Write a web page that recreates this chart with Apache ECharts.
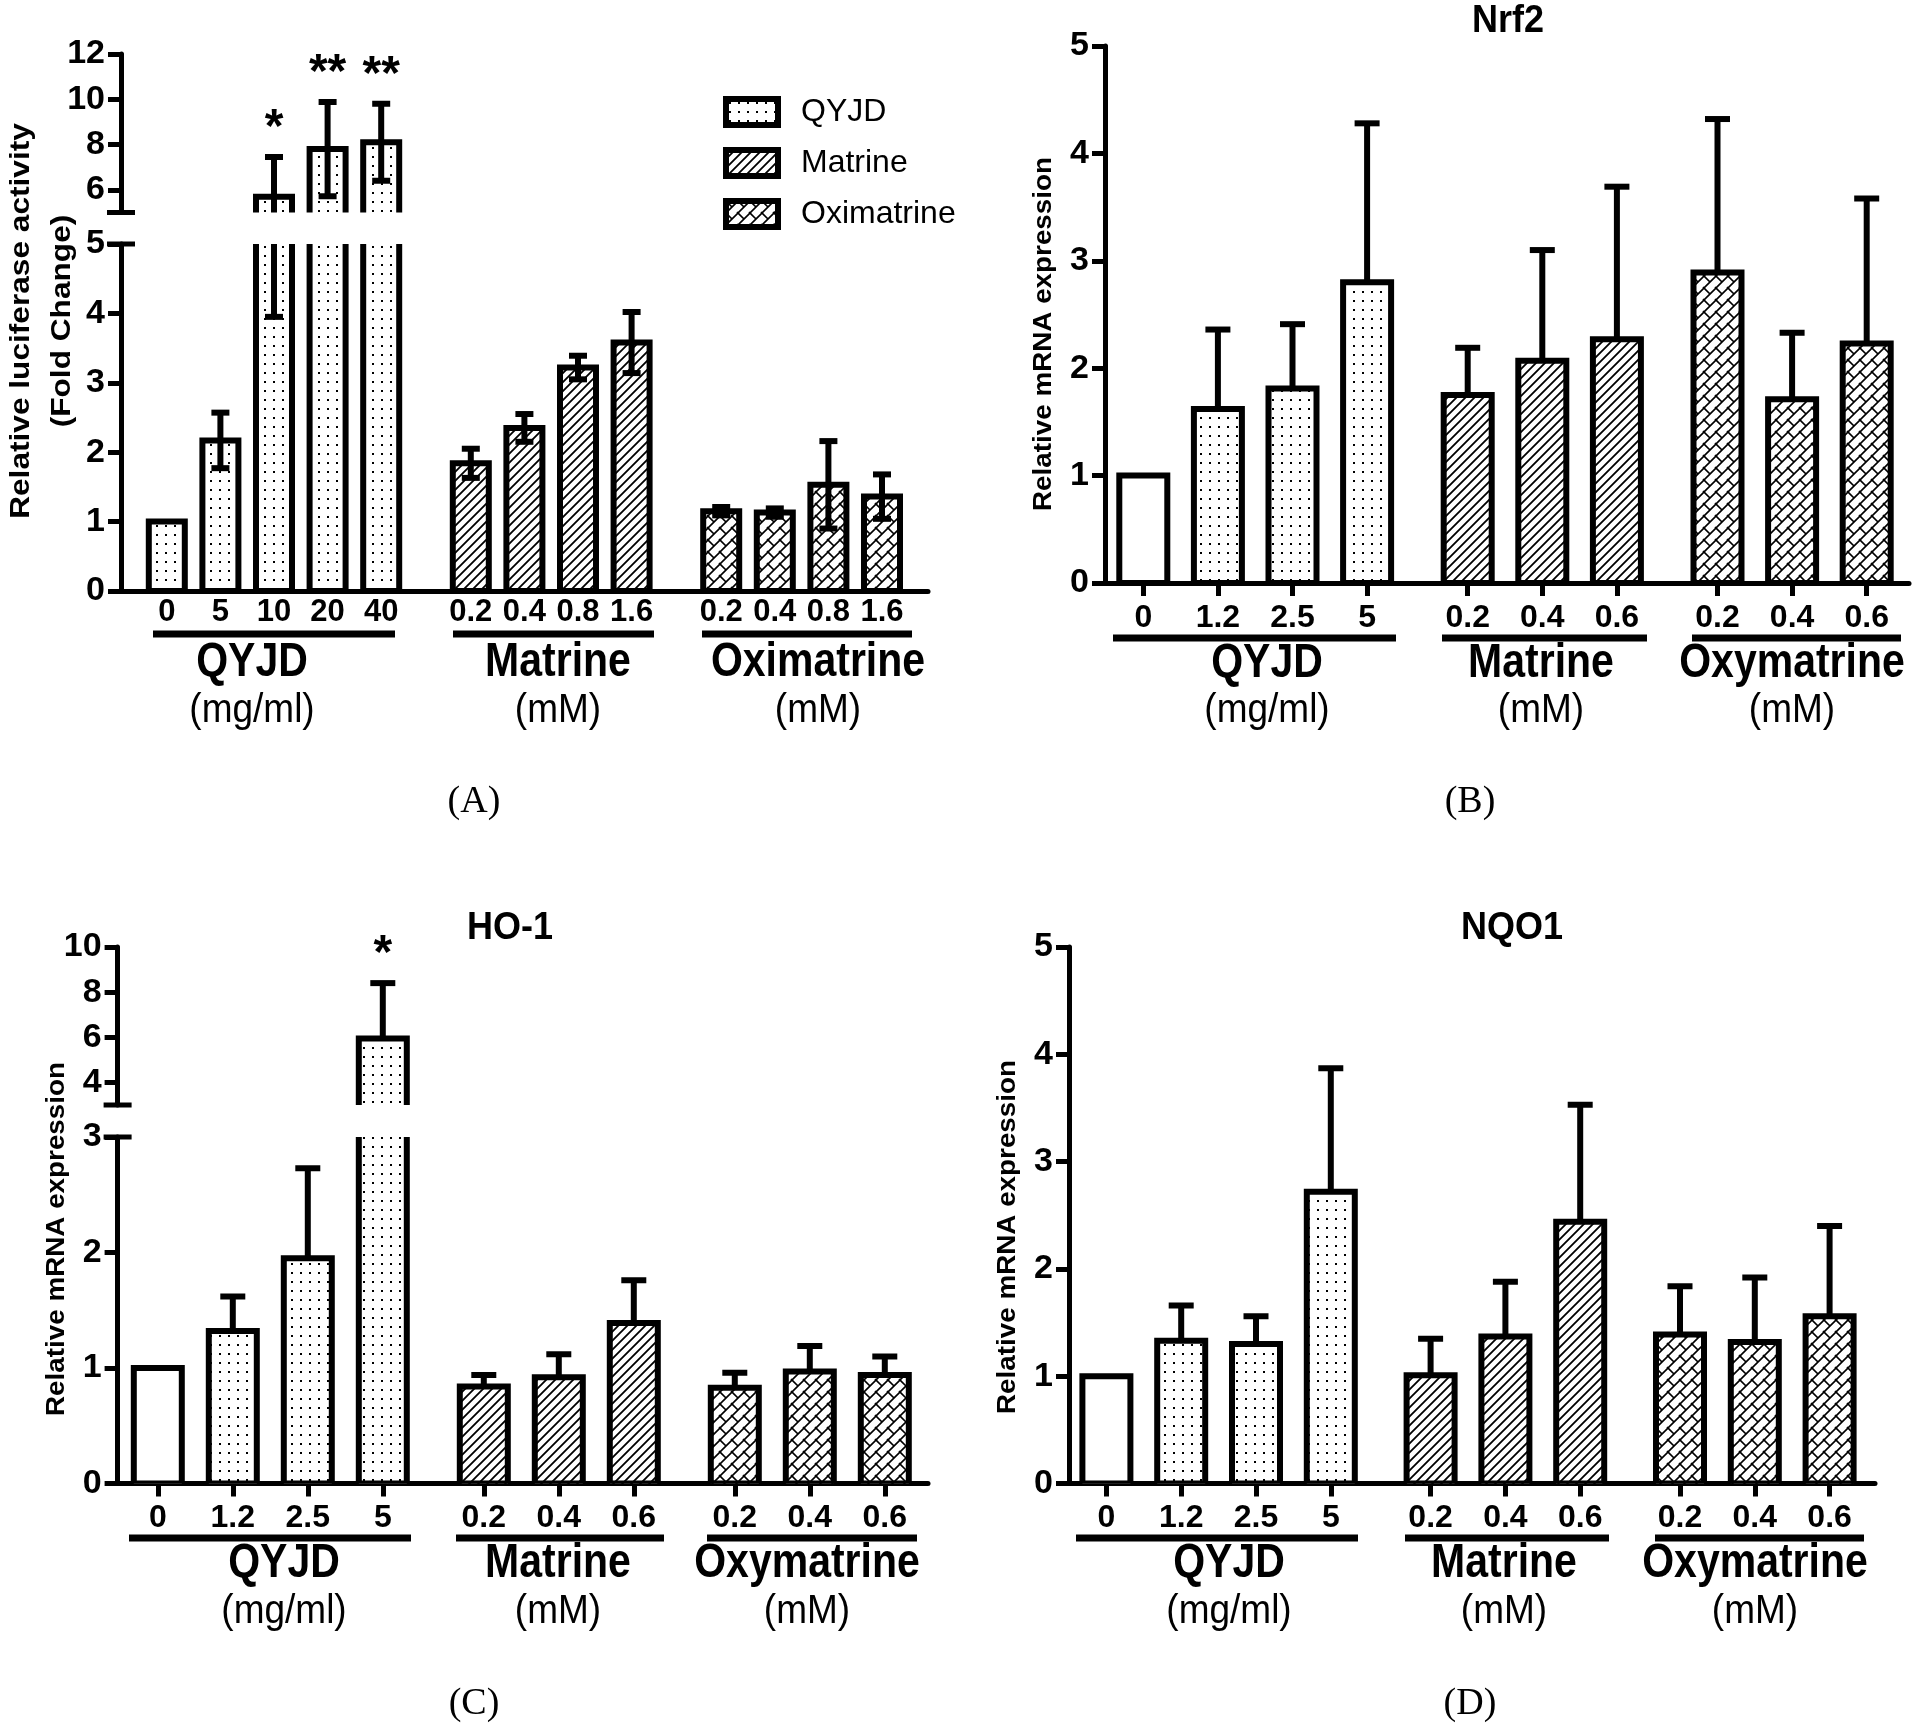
<!DOCTYPE html>
<html>
<head>
<meta charset="utf-8">
<script src="https://cdn.jsdelivr.net/npm/echarts@6/dist/echarts.min.js"></script>
<style>
  html, body { margin: 0; background: #fff; }
  #main { width: 1920px; height: 1729px; }
</style>
</head>
<body>
<div id="main"></div>
<script>
// values (mean and SD per dose)
var lucGroups = ['QYJD', 'Matrine', 'Oximatrine'];
var mrnaGroups = ['QYJD', 'Matrine', 'Oxymatrine'];
var groupUnits = ['(mg/ml)', '(mM)', '(mM)'];

var lucDoses = [['0', '5', '10', '20', '40'], ['0.2', '0.4', '0.8', '1.6'], ['0.2', '0.4', '0.8', '1.6']];
var lucMean = [[1.0, 2.17, 5.7, 7.8, 8.1], [1.84, 2.35, 3.22, 3.58], [1.15, 1.13, 1.53, 1.36]];
var lucSd = [[0, 0.4, 1.75, 2.08, 1.7], [0.21, 0.2, 0.17, 0.44], [0.06, 0.06, 0.63, 0.32]];
var lucStars = [['', '', '*', '**', '**'], [], []];
var lucUpperTicks = [6, 8, 10, 12];

var mrnaDoses = [['0', '1.2', '2.5', '5'], ['0.2', '0.4', '0.6'], ['0.2', '0.4', '0.6']];
var nrf2Mean = [[1.0, 1.62, 1.81, 2.8], [1.75, 2.07, 2.27], [2.89, 1.71, 2.23]];
var nrf2Sd = [[0, 0.74, 0.6, 1.48], [0.44, 1.03, 1.42], [1.43, 0.62, 1.35]];
var ho1Mean = [[1.0, 1.32, 1.95, 5.95], [0.84, 0.92, 1.39], [0.83, 0.97, 0.94]];
var ho1Sd = [[0, 0.3, 0.78, 2.45], [0.1, 0.2, 0.37], [0.13, 0.22, 0.16]];
var ho1Stars = [['', '', '', '*'], [], []];
var ho1UpperTicks = [4, 6, 8, 10];
var nqo1Mean = [[1.0, 1.33, 1.3, 2.72], [1.01, 1.37, 2.44], [1.39, 1.32, 1.56]];
var nqo1Sd = [[0, 0.33, 0.26, 1.15], [0.34, 0.51, 1.09], [0.45, 0.6, 0.84]];

var FONT = '"Liberation Sans", Arial, Helvetica, sans-serif';
var NARROW = '"Liberation Sans Narrow", "Arial Narrow", "Liberation Sans", sans-serif';
var SERIF = '"Liberation Serif", "Times New Roman", serif';
var AXIS_W = 5;
var BORDER = 6;

// fill patterns like the Prism originals
function tile(size, draw) {
  var c = document.createElement('canvas');
  c.width = size; c.height = size;
  var g = c.getContext('2d');
  g.fillStyle = '#fff';
  g.fillRect(0, 0, size, size);
  g.fillStyle = '#000';
  g.strokeStyle = '#000';
  draw(g, size);
  return { image: c, repeat: 'repeat' };
}
function seg(g, x1, y1, x2, y2) { g.moveTo(x1, y1); g.lineTo(x2, y2); }
var dots = tile(9, function (g) { g.fillRect(3, 3, 2, 2); });
var hatch = tile(9, function (g, s) {
  g.lineWidth = 1.8;
  g.beginPath();
  seg(g, -2, s + 2, s + 2, -2); seg(g, -2, 2, 2, -2); seg(g, s - 2, s + 2, s + 2, s - 2);
  g.stroke();
});
var weave = tile(12, function (g, s) {
  g.lineWidth = 1.6;
  g.beginPath();
  seg(g, -2, s + 2, s + 2, -2); seg(g, -2, 2, 2, -2); seg(g, s - 2, s + 2, s + 2, s - 2);
  seg(g, -1, -1, 6, 6); seg(g, s - 1, s - 1, s + 1, s + 1);
  g.stroke();
});
var fills = [dots, hatch, weave];

var panels = [
  { name: 'luc', groups: lucGroups, doses: lucDoses, mean: lucMean, sd: lucSd, stars: lucStars,
    x0: 121, end: 928, lead: 19, slot: 53.6, gap: 36, barW: 36, capW: 18, twoSided: true,
    xTicks: false, plainControl: false, tickFont: 31, labelMargin: 6,
    segs: [{ min: 0, max: 5, top: 244, bottom: 591, interval: 1 },
           { min: 5, max: 12, top: 54, bottom: 212.5, values: lucUpperTicks }],
    lineY: 634, lines: [[153, 395], [453, 654], [702, 912]], nameY: 663, unitY: 711,
    nameX: [252, 558, 818], letter: '(A)', letterXY: [474, 802],
    yTitle: ['Relative luciferase activity', '(Fold Change)'], yTitleX: [21, 62], yTitleY: 321,
    yTitleFont: 28, yTitleScale: 1.13 },
  { name: 'Nrf2', groups: mrnaGroups, doses: mrnaDoses, mean: nrf2Mean, sd: nrf2Sd, stars: null,
    x0: 1105, end: 1909, lead: 1, slot: 74.6, gap: 26, barW: 48, capW: 25, twoSided: false,
    xTicks: true, plainControl: true, tickFont: 32, labelMargin: 19,
    segs: [{ min: 0, max: 5, top: 46, bottom: 583, interval: 1 }],
    lineY: 638, lines: [[1113, 1396], [1442, 1647], [1692, 1901]], nameY: 664, unitY: 711,
    nameX: [1267, 1541, 1792], letter: '(B)', letterXY: [1470, 802], title: 'Nrf2', titleXY: [1508, 21],
    yTitle: ['Relative mRNA expression'], yTitleX: [1044], yTitleY: 334, yTitleFont: 26, yTitleScale: 1.07 },
  { name: 'HO-1', groups: mrnaGroups, doses: mrnaDoses, mean: ho1Mean, sd: ho1Sd, stars: ho1Stars,
    x0: 117.6, end: 928, lead: 2.7, slot: 75, gap: 26, barW: 48, capW: 25, twoSided: false,
    xTicks: true, plainControl: true, tickFont: 32, labelMargin: 19,
    segs: [{ min: 0, max: 3, top: 1137, bottom: 1483.6, interval: 1 },
           { min: 3, max: 10, top: 947, bottom: 1105, values: ho1UpperTicks }],
    lineY: 1538, lines: [[129, 411], [456, 664], [707, 917]], nameY: 1564, unitY: 1612,
    nameX: [284, 558, 807], letter: '(C)', letterXY: [474, 1704], title: 'HO-1', titleXY: [510, 928],
    yTitle: ['Relative mRNA expression'], yTitleX: [57], yTitleY: 1239, yTitleFont: 26, yTitleScale: 1.07 },
  { name: 'NQO1', groups: mrnaGroups, doses: mrnaDoses, mean: nqo1Mean, sd: nqo1Sd, stars: null,
    x0: 1069, end: 1875, lead: 0, slot: 74.8, gap: 25, barW: 48, capW: 25, twoSided: false,
    xTicks: true, plainControl: true, tickFont: 32, labelMargin: 19,
    segs: [{ min: 0, max: 5, top: 947, bottom: 1483.6, interval: 1 }],
    lineY: 1538, lines: [[1076, 1358], [1405, 1609], [1655, 1864]], nameY: 1564, unitY: 1612,
    nameX: [1229, 1504, 1755], letter: '(D)', letterXY: [1470, 1704], title: 'NQO1', titleXY: [1512, 928],
    yTitle: ['Relative mRNA expression'], yTitleX: [1008], yTitleY: 1237, yTitleFont: 26, yTitleScale: 1.07 }
];

var grids = [], xAxes = [], yAxes = [], series = [], graphics = [];

function blackLine(x1, y1, x2, y2, w) {
  return { type: 'line', shape: { x1: x1, y1: y1, x2: x2, y2: y2 }, style: { stroke: '#000', lineWidth: w } };
}

function barRenderer(p, g) {
  return function (params, api) {
    var i = api.value(0), m = api.value(1), e = api.value(2);
    var top = api.coord([i, m]);
    var base = api.coord([i, 0]);
    var x = top[0], hw = p.barW / 2;
    var plain = p.plainControl && g === 0 && i === 0;
    var parts = [{
      type: 'rect',
      shape: { x: x - hw, y: top[1], width: p.barW, height: base[1] - top[1] },
      style: { fill: plain ? '#fff' : fills[g], stroke: '#000', lineWidth: BORDER }
    }];
    if (e > 0) {
      var hi = api.coord([i, m + e]);
      var lo = api.coord([i, p.twoSided ? m - e : m]);
      parts.push(blackLine(x, hi[1], x, lo[1], 6));
      parts.push(blackLine(x - p.capW / 2, hi[1], x + p.capW / 2, hi[1], 6));
      if (p.twoSided) parts.push(blackLine(x - p.capW / 2, lo[1], x + p.capW / 2, lo[1], 6));
    }
    return { type: 'group', children: parts };
  };
}

function starRenderer(p, g, s) {
  return function (params, api) {
    var star = p.stars[g][params.dataIndex];
    var top = api.value(1) + api.value(2);
    if (!star || top < s.min || top > s.max) return null;
    var pt = api.coord([api.value(0), top]);
    return {
      type: 'text', x: pt[0], y: pt[1] - 28,
      style: { text: star, font: 'bold 48px ' + FONT, fill: '#000', align: 'center', verticalAlign: 'middle' }
    };
  };
}

function addText(text, x, y, font, opts) {
  var el = { type: 'text', x: x, y: y, style: { text: text, font: font, fill: '#000', align: 'center', verticalAlign: 'middle' } };
  for (var k in (opts || {})) el[k] = opts[k];
  graphics.push(el);
}

panels.forEach(function (p) {
  var broken = p.segs.length > 1;
  // frame grids: the y axis and the continuous x axis line
  p.segs.forEach(function (s, si) {
    var gi = grids.length;
    grids.push({ left: p.x0, top: s.top, width: p.end - p.x0, height: s.bottom - s.top, containLabel: false, outerBoundsMode: 'none' });
    xAxes.push({
      gridIndex: gi, type: 'value', min: 0, max: 1, show: si === 0,
      axisLine: { lineStyle: { color: '#000', width: AXIS_W } },
      axisTick: { show: false }, axisLabel: { show: false }, splitLine: { show: false }
    });
    var ya = {
      gridIndex: gi, type: 'value', min: s.min, max: s.max,
      axisLine: {
        show: true, lineStyle: { color: '#000', width: AXIS_W },
        symbol: broken ? (si === 0 ? ['none', 'rect'] : ['rect', 'none']) : ['none', 'none'],
        symbolSize: [28, 5]
      },
      axisTick: { show: true, length: 13, lineStyle: { color: '#000', width: AXIS_W } },
      axisLabel: { color: '#000', fontFamily: NARROW, fontWeight: 'bold', fontSize: 34, margin: 16 },
      splitLine: { show: false }
    };
    if (s.values) {
      ya.axisTick.customValues = s.values;
      ya.axisLabel.customValues = s.values;
    } else {
      ya.interval = s.interval;
    }
    yAxes.push(ya);
  });

  // one grid per treatment group and axis segment
  var left = p.x0 + p.lead;
  p.doses.forEach(function (cats, g) {
    var w = cats.length * p.slot;
    var rows = p.mean[g].map(function (m, i) { return [i, m, p.sd[g][i]]; });
    p.segs.forEach(function (s, si) {
      var gi = grids.length;
      grids.push({ left: left, top: s.top, width: w, height: s.bottom - s.top, containLabel: false, outerBoundsMode: 'none' });
      xAxes.push({
        gridIndex: gi, type: 'category', data: cats,
        axisLine: { show: false },
        axisTick: { show: si === 0 && p.xTicks, alignWithLabel: true, length: 13, lineStyle: { color: '#000', width: AXIS_W } },
        axisLabel: { show: si === 0, interval: 0, color: '#000', fontFamily: NARROW, fontWeight: 'bold', fontSize: p.tickFont, margin: p.labelMargin },
        splitLine: { show: false }
      });
      yAxes.push({ gridIndex: gi, type: 'value', min: s.min, max: s.max, show: false, splitLine: { show: false } });
      series.push({
        type: 'custom',
        name: p.name === 'luc' ? p.groups[g] : p.name + ' ' + p.groups[g],
        xAxisIndex: gi, yAxisIndex: gi, clip: true,
        itemStyle: { color: fills[g], borderColor: '#000', borderWidth: BORDER },
        renderItem: barRenderer(p, g),
        data: rows
      });
      if (p.stars && p.stars[g].length) {
        series.push({
          type: 'custom', name: 'stars', xAxisIndex: gi, yAxisIndex: gi, clip: false, z: 5,
          renderItem: starRenderer(p, g, s), data: rows
        });
      }
    });
    // group underline and labels
    var ln = p.lines[g];
    graphics.push({ type: 'rect', shape: { x: ln[0], y: p.lineY - 3.5, width: ln[1] - ln[0], height: 7 }, style: { fill: '#000' } });
    addText(p.groups[g], p.nameX[g], p.nameY, 'bold 41px ' + FONT, { scaleY: 1.15 });
    addText(groupUnits[g], p.nameX[g], p.unitY, '37px ' + FONT, { scaleY: 1.12 });
    left += w + p.gap;
  });

  addText(p.letter, p.letterXY[0], p.letterXY[1], '38px ' + SERIF);
  if (p.title) addText(p.title, p.titleXY[0], p.titleXY[1], 'bold 36px ' + FONT, { scaleY: 1.1 });
  p.yTitle.forEach(function (t, k) {
    addText(t, p.yTitleX[k], p.yTitleY, 'bold ' + p.yTitleFont + 'px ' + FONT, { rotation: Math.PI / 2, scaleX: p.yTitleScale });
  });
});

var chart = echarts.init(document.getElementById('main'));
chart.setOption({
  animation: false,
  backgroundColor: '#fff',
  textStyle: { fontFamily: FONT, color: '#000' },
  legend: {
    data: lucGroups,
    orient: 'vertical', left: 718, top: 91,
    itemWidth: 52, itemHeight: 26, itemGap: 19, icon: 'rect',
    selectedMode: false,
    itemStyle: { borderColor: '#000', borderWidth: BORDER },
    textStyle: { fontSize: 32, fontFamily: FONT, color: '#000', padding: [0, 0, 0, 18] }
  },
  grid: grids,
  xAxis: xAxes,
  yAxis: yAxes,
  series: series,
  graphic: graphics
});
</script>
</body>
</html>
